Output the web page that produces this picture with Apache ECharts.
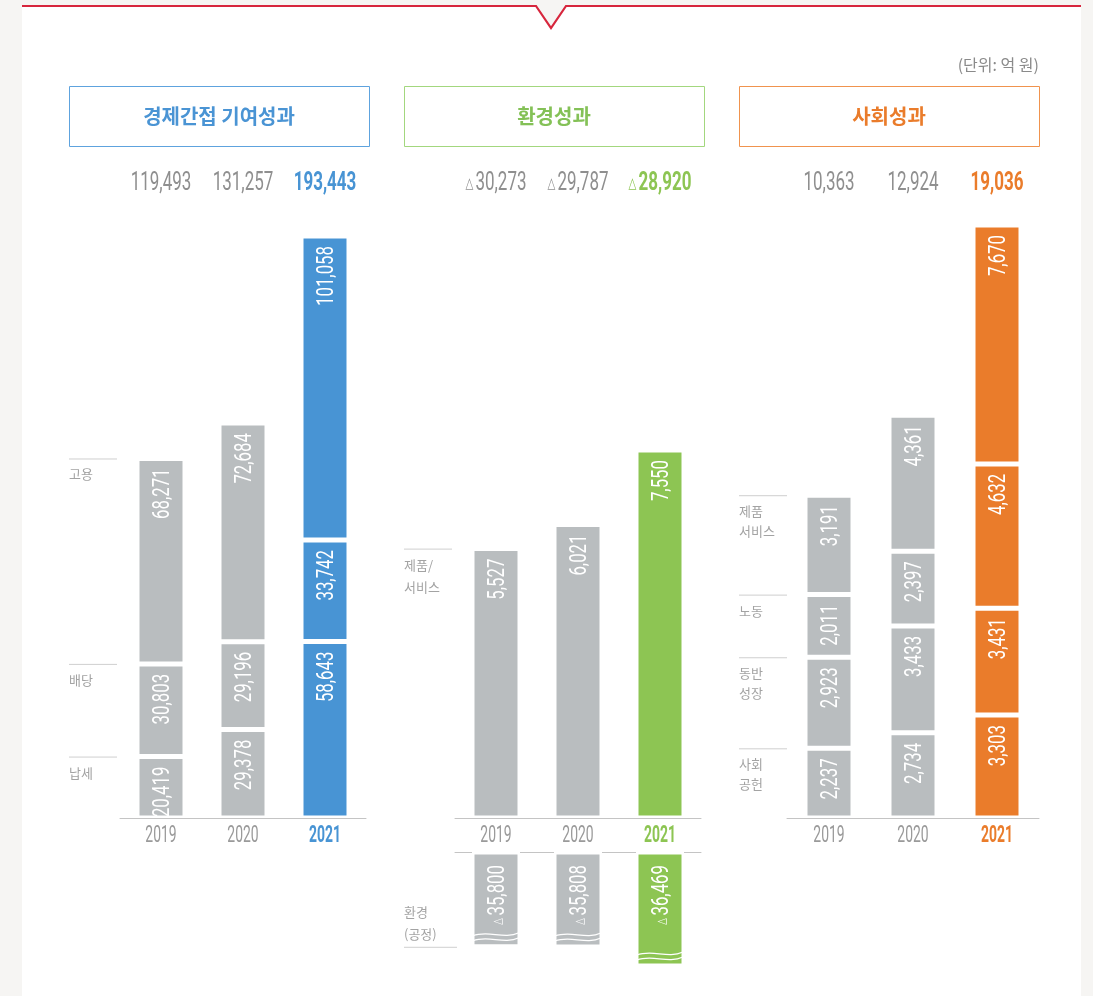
<!DOCTYPE html>
<html>
<head>
<meta charset="utf-8">
<script src="https://cdn.jsdelivr.net/npm/echarts@6/dist/echarts.min.js"></script>
<style>
  html, body { margin: 0; padding: 0; background: #f6f5f3; }
  #chart { width: 1093px; height: 996px; }
</style>
</head>
<body>
<div id="chart"></div>
<script>
// 단위: 억 원
const years = ['2019', '2020', '2021'];

// 경제간접 기여성과 (stacked bottom -> top)
const ecoTax = [20419, 29378, 58643];        // 납세
const ecoDividend = [30803, 29196, 33742];   // 배당
const ecoEmploy = [68271, 72684, 101058];    // 고용
const ecoTotal = [119493, 131257, 193443];

// 환경성과
const envProduct = [5527, 6021, 7550];          // 제품/서비스
const envProcess = [-35800, -35808, -36469];    // 환경(공정)
const envTotal = [-30273, -29787, -28920];

// 사회성과 (stacked bottom -> top)
const socContrib = [2237, 2734, 3303];   // 사회공헌
const socGrowth = [2923, 3433, 3431];    // 동반성장
const socLabor = [2011, 2397, 4632];     // 노동
const socProduct = [3191, 4361, 7670];   // 제품서비스
const socTotal = [10363, 12924, 19036];

const GRAY = '#b9bdbf';
const BLUE = '#4894d4';
const GREEN = '#8dc553';
const ORANGE = '#ea7c2b';
const NUM = 'Roboto, "DejaVu Sans", sans-serif';
const KR = '"Noto Sans CJK KR", sans-serif';

const fmt = v => Math.abs(v).toLocaleString('en-US');

function hiColor(c) {
    return p => (p.dataIndex === 2 ? c : GRAY);
}

function stackBar(name, data, axis, stack, c) {
    return {
        name: name,
        type: 'bar',
        stack: stack,
        xAxisIndex: axis,
        yAxisIndex: axis,
        barWidth: 48,
        data: data,
        itemStyle: { color: hiColor(c), borderColor: '#fff', borderWidth: 2.5 },
        emphasis: { disabled: true }
    };
}

// 막대 안의 세로 숫자 (좁은 글꼴 흉내: scaleX)
function numText(x, y, str, neg) {
    return {
        type: 'text', x: x + 2, y: y, rotation: Math.PI / 2, scaleX: 0.7,
        style: {
            text: (neg ? '{t|△}' : '') + '{n|' + str + '}',
            x: 0, y: 0, align: 'right', verticalAlign: 'middle',
            rich: {
                t: { fill: '#fff', font: '12px "DejaVu Sans"', padding: [0, 4, 0, 0] },
                n: { fill: '#fff', font: '24px ' + NUM }
            }
        }
    };
}

function stackLabels(axis, arrays) {
    const data = [];
    years.forEach((y, i) => {
        let top = 0;
        arrays.forEach(a => { top += a[i]; data.push([i, top, a[i]]); });
    });
    return {
        type: 'custom', xAxisIndex: axis, yAxisIndex: axis, z: 5, silent: true,
        data: data,
        renderItem: function (params, api) {
            const p = api.coord([api.value(0), api.value(1)]);
            return numText(p[0], p[1] + 10, fmt(api.value(2)), false);
        }
    };
}

function yearAxis(idx, opts) {
    return Object.assign({
        type: 'category',
        gridIndex: idx,
        data: years,
        axisTick: { show: false },
        axisLabel: { show: false },
        axisLine: { lineStyle: { color: '#c4c4c4', width: 1 } }
    }, opts || {});
}

function hiddenY(idx, opts) {
    return Object.assign({ type: 'value', gridIndex: idx, show: false, splitLine: { show: false } }, opts);
}

const chart = echarts.init(document.getElementById('chart'));

chart.setOption({
    backgroundColor: '#f6f5f3',
    animation: false,
    grid: [
        { left: 120, width: 246, top: 236, height: 582 },
        { left: 455, width: 246, top: 450, height: 368 },
        { left: 455, width: 246, top: 852, height: 114 },
        { left: 787, width: 252, top: 225, height: 593 }
    ],
    xAxis: [
        yearAxis(0),
        yearAxis(1),
        yearAxis(2, { position: 'top' }),
        yearAxis(3)
    ],
    yAxis: [
        hiddenY(0, { min: 0, max: 193443 }),
        hiddenY(1, { min: 0, max: 7550 }),
        hiddenY(2, { min: -36469, max: -32500, startValue: -32500 }),
        hiddenY(3, { min: 0, max: 19036 })
    ],
    series: [
        stackBar('납세', ecoTax, 0, 'eco', BLUE),
        stackBar('배당', ecoDividend, 0, 'eco', BLUE),
        stackBar('고용', ecoEmploy, 0, 'eco', BLUE),
        stackLabels(0, [ecoTax, ecoDividend, ecoEmploy]),
        stackBar('제품/서비스', envProduct, 1, 'env', GREEN),
        stackLabels(1, [envProduct]),
        stackBar('환경(공정)', envProcess, 2, 'envNeg', GREEN),
        {
            // 잘린 막대: 숫자와 물결
            type: 'custom',
            xAxisIndex: 2,
            yAxisIndex: 2,
            z: 5,
            silent: true,
            data: envProcess.map((v, i) => [i, v]),
            renderItem: function (params, api) {
                const p = api.coord([api.value(0), api.value(1)]);
                const hw = 23;
                const kids = [12, 7].map(off => ({
                    type: 'bezierCurve',
                    shape: {
                        x1: p[0] - hw, y1: p[1] - off + 1,
                        cpx1: p[0] - hw / 3, cpy1: p[1] - off - 5,
                        cpx2: p[0] + hw / 3, cpy2: p[1] - off + 5,
                        x2: p[0] + hw, y2: p[1] - off - 2
                    },
                    style: { stroke: '#fff', lineWidth: 1.2, fill: null }
                }));
                kids.push(numText(p[0], params.coordSys.y + 13, fmt(api.value(1)), true));
                return { type: 'group', children: kids };
            }
        },
        stackBar('사회공헌', socContrib, 3, 'soc', ORANGE),
        stackBar('동반성장', socGrowth, 3, 'soc', ORANGE),
        stackBar('노동', socLabor, 3, 'soc', ORANGE),
        stackBar('제품서비스', socProduct, 3, 'soc', ORANGE),
        stackLabels(3, [socContrib, socGrowth, socLabor, socProduct])
    ]
});

// 장식 요소와 합계, 연도, 좌측 범례
const g = [];

g.push({
    type: 'polygon', z: -10, silent: true,
    shape: { points: [[22, 6], [536, 6], [551, 28], [566, 6], [1081, 6], [1081, 1000], [22, 1000]] },
    style: { fill: '#fff' }
});
g.push({
    type: 'polyline', silent: true,
    shape: { points: [[22, 6], [536, 6], [551, 28], [566, 6], [1081, 6]] },
    style: { stroke: '#d7263d', lineWidth: 2.2, fill: null }
});
g.push({
    type: 'text', silent: true,
    style: { text: '(단위: 억 원)', x: 1039, y: 65, align: 'right', verticalAlign: 'middle',
        fill: '#8a8a8a', font: '16px ' + KR }
});

const panels = [
    { title: '경제간접 기여성과', x: 69, color: '#4a94d4', border: '#5ea3de', grid: 0, totals: ecoTotal, hi: BLUE },
    { title: '환경성과', x: 404, color: '#84c157', border: '#a3d77e', grid: 1, totals: envTotal, hi: GREEN },
    { title: '사회성과', x: 739, color: '#ea7c2b', border: '#f0934e', grid: 3, totals: socTotal, hi: ORANGE }
];

panels.forEach(pn => {
    g.push({
        type: 'rect', silent: true,
        shape: { x: pn.x + 0.5, y: 86.5, width: 300, height: 60 },
        style: { fill: '#fff', stroke: pn.border, lineWidth: 1 }
    });
    g.push({
        type: 'text', silent: true,
        style: { text: pn.title, x: pn.x + 150, y: 116, align: 'center', verticalAlign: 'middle',
            fill: pn.color, font: 'bold 20px ' + KR }
    });
    pn.totals.forEach((v, i) => {
        const px = chart.convertToPixel({ gridIndex: pn.grid }, [i, 0]);
        const hi = i === 2;
        const col = hi ? pn.hi : '#8f8f8f';
        const w = hi ? 'bold' : 'normal';
        const txt = (v < 0 ? '{t|△}' : '') + '{n|' + fmt(v) + '}';
        g.push({
            type: 'text', silent: true,
            x: px[0], y: 184, scaleX: 0.68,
            style: {
                text: txt, x: 0, y: 0, align: 'center', verticalAlign: 'middle',
                rich: {
                    t: { fill: col, font: w + ' 15px "DejaVu Sans"', padding: [0, 3, 0, 0] },
                    n: { fill: col, font: w + ' 25px ' + NUM }
                }
            }
        });
        // 연도
        g.push({
            type: 'text', silent: true,
            x: px[0], y: 836, scaleX: 0.58,
            style: { text: years[i], x: 0, y: 0, align: 'center', verticalAlign: 'middle',
                fill: hi ? pn.hi : '#9a9a9a', font: (hi ? 'bold ' : '') + '24px ' + NUM }
        });
    });
});

function sideLabel(grid, value, x1, x2, lines, below, gap) {
    const y = chart.convertToPixel({ gridIndex: grid }, [0, value])[1];
    g.push({
        type: 'line', silent: true,
        shape: { x1: x1, y1: y + 0.5, x2: x2, y2: y + 0.5 },
        style: { stroke: '#cfcfcf', lineWidth: 1 }
    });
    lines.forEach((t, k) => {
        const ty = below ? y + 16 + k * gap : y - 13 - (lines.length - 1 - k) * gap;
        g.push({
            type: 'text', silent: true,
            style: { text: t, x: x1, y: ty, align: 'left', verticalAlign: 'middle',
                fill: '#a3a3a3', font: '13px ' + KR }
        });
    });
}

sideLabel(0, ecoTax[0] + ecoDividend[0] + ecoEmploy[0], 69, 117, ['고용'], true, 20);
sideLabel(0, ecoTax[0] + ecoDividend[0], 69, 117, ['배당'], true, 20);
sideLabel(0, ecoTax[0], 69, 117, ['납세'], true, 20);

sideLabel(1, envProduct[0], 404, 452, ['제품/', '서비스'], true, 22);
sideLabel(2, envProcess[0], 404, 457, ['환경', '(공정)'], false, 22);

sideLabel(3, socContrib[0] + socGrowth[0] + socLabor[0] + socProduct[0], 739, 787, ['제품', '서비스'], true, 20);
sideLabel(3, socContrib[0] + socGrowth[0] + socLabor[0], 739, 787, ['노동'], true, 20);
sideLabel(3, socContrib[0] + socGrowth[0], 739, 787, ['동반', '성장'], true, 20);
sideLabel(3, socContrib[0], 739, 787, ['사회', '공헌'], true, 20);

chart.setOption({ graphic: { elements: g } });
</script>
</body>
</html>
